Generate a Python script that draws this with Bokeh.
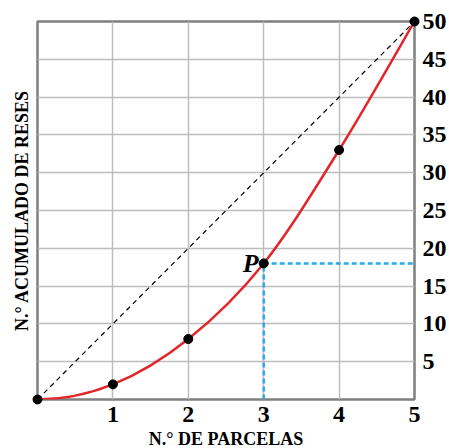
from bokeh.plotting import figure
from bokeh.models import FixedTicker, LinearAxis, Range1d
from bokeh.core.properties import value
from bokeh.embed import file_html
from bokeh.resources import INLINE

# data
parcelas = [0, 1, 2, 3, 4, 5]
reses = [0, 2, 8, 18, 33, 50]
x_ticks = [1, 2, 3, 4, 5]
y_ticks = [5, 10, 15, 20, 25, 30, 35, 40, 45, 50]
p_index = 3
diag_x = [0, 5]
diag_y = [0, 50]

FONT = "Liberation Serif"

p = figure(frame_width=377, frame_height=378, x_range=Range1d(0, 5), y_range=Range1d(0, 50),
           output_backend="svg", toolbar_location=None, y_axis_location="right",
           min_border_left=37, min_border_right=35, min_border_top=21, min_border_bottom=49)
p.background_fill_color = "white"
p.border_fill_color = "white"
p.outline_line_color = "#7f7f7f"
p.outline_line_width = 2.5

# grid
p.xgrid.ticker = FixedTicker(ticks=x_ticks)
p.ygrid.ticker = FixedTicker(ticks=y_ticks)
for g in (p.xgrid, p.ygrid):
    g.grid_line_color = "#bdbdbd"
    g.grid_line_width = 1.5

# axes
xa = p.xaxis[0]
xa.ticker = FixedTicker(ticks=x_ticks)
xa.axis_label = "N.° DE PARCELAS"
ya = p.yaxis[0]
ya.ticker = FixedTicker(ticks=y_ticks)
for ax in (xa, ya):
    ax.axis_line_color = None
    ax.major_tick_line_color = None
    ax.minor_tick_line_color = None
    ax.major_tick_out = 0
    ax.major_tick_in = 0
    ax.minor_tick_out = 0
    ax.minor_tick_in = 0
    ax.major_label_text_font = FONT
    ax.major_label_text_font_style = "bold"
    ax.major_label_text_font_size = "24px"
    ax.major_label_text_color = "black"
    ax.axis_label_text_font = FONT
    ax.axis_label_text_font_style = "bold"
    ax.axis_label_text_font_size = "18px"
    ax.axis_label_text_color = "black"
xa.major_label_standoff = 7
xa.axis_label_standoff = 4
ya.major_label_standoff = 8

la = LinearAxis(ticker=FixedTicker(ticks=[]), axis_label="N.° ACUMULADO DE RESES")
la.axis_line_color = None
la.major_tick_line_color = None
la.minor_tick_line_color = None
la.major_tick_out = 0
la.major_tick_in = 0
la.minor_tick_out = 0
la.minor_tick_in = 0
la.axis_label_text_font = FONT
la.axis_label_text_font_style = "bold"
la.axis_label_text_font_size = "18px"
la.axis_label_text_color = "black"
la.axis_label_standoff = 6
p.add_layout(la, "left")

# diagonal dashed line
p.line(diag_x, diag_y, line_color="black", line_width=1.2, line_dash="5 4")

# smooth curve through data (Catmull-Rom -> Bezier)
n = len(parcelas)
ext_x = [2 * parcelas[0] - parcelas[1]] + parcelas + [parcelas[-1]]
ext_y = [reses[1]] + reses + [reses[-1]]
x0, y0, x1, y1, cx0, cy0, cx1, cy1 = [], [], [], [], [], [], [], []
for i in range(n - 1):
    a, b, c, d = i, i + 1, i + 2, i + 3
    x0.append(ext_x[b]); y0.append(ext_y[b])
    x1.append(ext_x[c]); y1.append(ext_y[c])
    cx0.append(ext_x[b] + (ext_x[c] - ext_x[a]) / 6)
    cy0.append(ext_y[b] + (ext_y[c] - ext_y[a]) / 6)
    cx1.append(ext_x[c] - (ext_x[d] - ext_x[b]) / 6)
    cy1.append(ext_y[c] - (ext_y[d] - ext_y[b]) / 6)
p.bezier(x0=x0, y0=y0, x1=x1, y1=y1, cx0=cx0, cy0=cy0, cx1=cx1, cy1=cy1,
         line_color="#e3262b", line_width=2.5)

# guide lines for P
px, py = parcelas[p_index], reses[p_index]
p.line([px, px], [0, py], line_color="#29abe2", line_width=2.5, line_dash="5 3")
p.line([px, 5], [py, py], line_color="#29abe2", line_width=2.5, line_dash="5 3")

# points (overlay level so that the corner points are not clipped)
p.scatter(parcelas, reses, size=9, color="black", level="overlay")

p.text(x=[px], y=[py], text=["P"], text_font=value(FONT), text_font_style="bold italic",
       text_font_size="26px", text_align="right", text_baseline="middle",
       x_offset=-5, y_offset=0, text_color="black")

open("out.html", "w").write(file_html(p, INLINE))
